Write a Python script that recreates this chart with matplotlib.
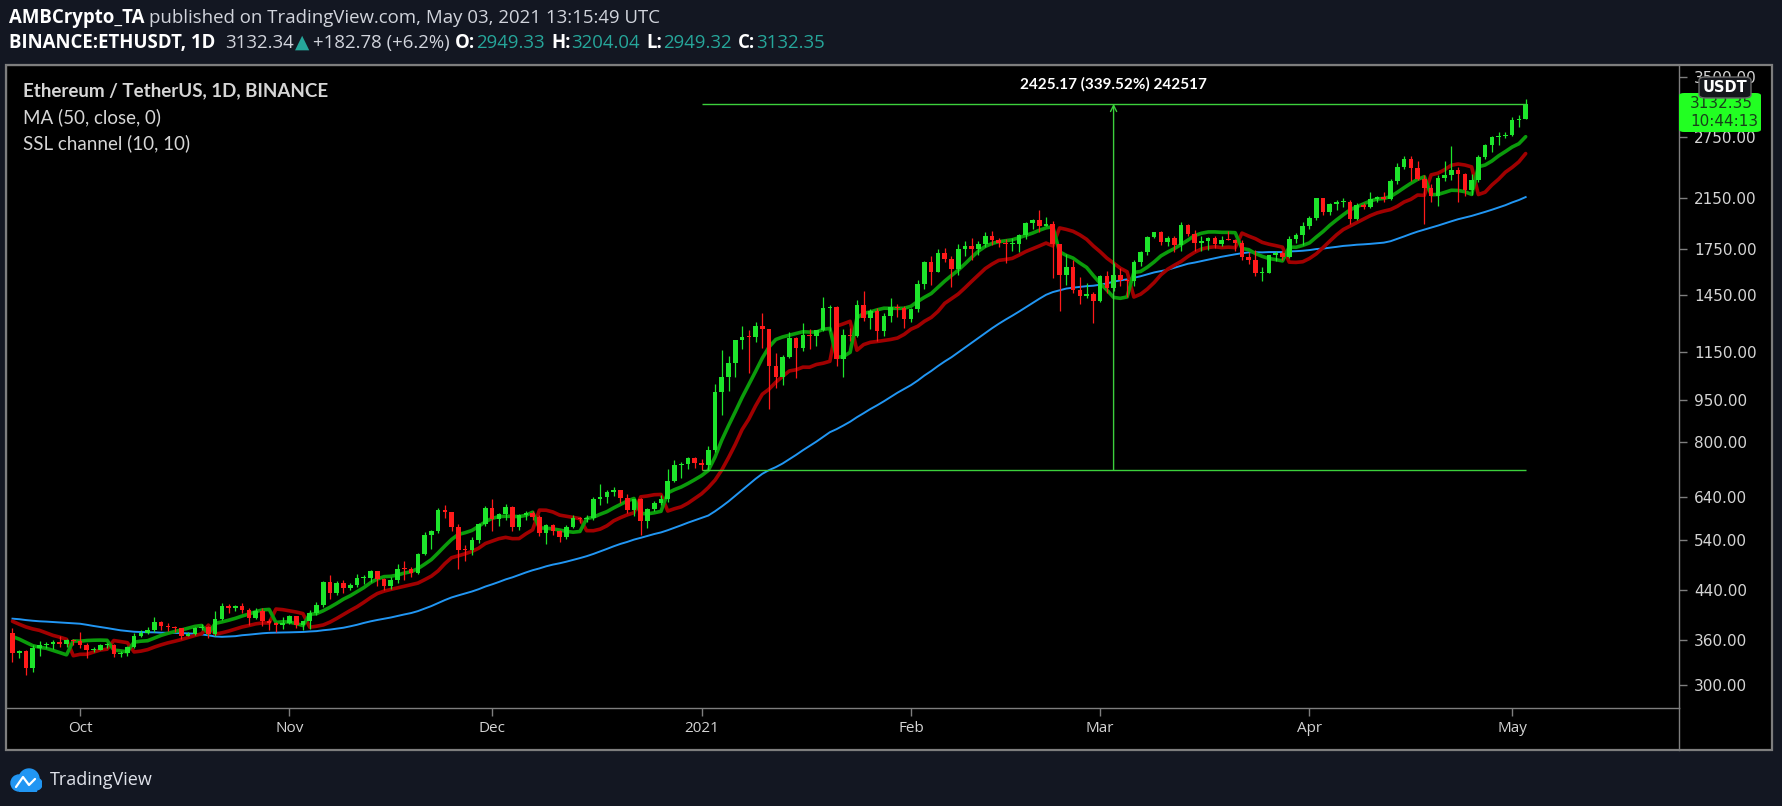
# ETHUSDT 日线走势图 (TradingView 风格还原)
import numpy as np
import pandas as pd
from matplotlib import pyplot as plt
from matplotlib.patches import Rectangle, FancyBboxPatch, Circle
from matplotlib.lines import Line2D
from matplotlib.ticker import FixedLocator, NullLocator

W, H = 1783, 806

# ---- 行情数据: Binance ETHUSDT 1D, 2020-09-21 .. 2021-05-03 ----
start_date = '2020-09-21'
first_open = 370.0

closes = [
    # Sep 21-30
    341, 344, 321, 349, 352, 354, 357, 354, 360, 359,
    # Oct
    353, 346, 346, 352, 353, 340, 341, 350, 365, 370, 375, 387, 381, 379, 377, 366,
    368, 377, 379, 368, 392, 413, 409, 412, 406, 393, 404, 388, 386, 383, 386,
    # Nov
    396, 383, 388, 402, 415, 455, 435, 453, 444, 449, 462, 462, 475, 460, 448, 459,
    480, 479, 471, 509, 550, 559, 608, 603, 568, 518, 517, 538, 574, 614,
    # Dec
    587, 598, 616, 569, 596, 601, 591, 554, 573, 560, 545, 568, 590, 586, 589, 636,
    642, 654, 659, 639, 609, 635, 583, 612, 626, 635, 683, 731, 732, 752, 737,
    # Jan
    729, 775, 979, 1041, 1100, 1208, 1225, 1224, 1282, 1263, 1090, 1043, 1130, 1218,
    1171, 1233, 1230, 1257, 1377, 1382, 1121, 1236, 1230, 1392, 1324, 1357, 1253,
    1331, 1382, 1377, 1314,
    # Feb
    1369, 1515, 1660, 1594, 1719, 1677, 1613, 1750, 1769, 1744, 1783, 1843, 1814,
    1790, 1781, 1782, 1846, 1937, 1960, 1920, 1935, 1781, 1570, 1626, 1478, 1446,
    1459, 1417,
    # Mar
    1565, 1492, 1575, 1541, 1532, 1654, 1724, 1835, 1869, 1799, 1826, 1772, 1924,
    1855, 1792, 1806, 1823, 1783, 1814, 1812, 1787, 1689, 1669, 1582, 1588, 1702,
    1716, 1691, 1819, 1846, 1919,
    # Apr
    1977, 2143, 2025, 2093, 2108, 2115, 1971, 2088, 2071, 2135, 2157, 2139, 2299,
    2432, 2514, 2422, 2316, 2236, 2164, 2331, 2357, 2402, 2363, 2214, 2304, 2534,
    2662, 2746, 2757, 2772,
    # May 1-3
    2945, 2949.33, 3132.35,
]

highs = [
    377, 346, 346, 352, 358, 357, 360, 366, 362, 362,
    372, 356, 350, 354, 355, 354, 344, 351, 370, 375, 379, 395, 389, 385, 381, 378,
    371, 379, 384, 381, 405, 418, 416, 415, 418, 409, 409, 409, 392, 387, 395,
    398, 397, 389, 407, 419, 457, 467, 457, 459, 453, 470, 468, 478, 476, 463, 464,
    490, 495, 484, 512, 556, 561, 613, 622, 604, 575, 529, 545, 578, 619,
    637, 601, 623, 619, 598, 605, 606, 596, 575, 576, 561, 572, 596, 592, 597, 640,
    676, 659, 668, 660, 649, 637, 639, 614, 630, 647, 717, 745, 740, 755, 754,
    749, 787, 1011, 1163, 1134, 1210, 1280, 1260, 1300, 1348, 1265, 1146, 1136, 1250,
    1223, 1294, 1263, 1260, 1440, 1394, 1385, 1263, 1270, 1423, 1476, 1372, 1377,
    1350, 1433, 1396, 1385,
    1375, 1541, 1665, 1695, 1745, 1755, 1700, 1780, 1806, 1828, 1803, 1870, 1875,
    1825, 1818, 1825, 1853, 1950, 1975, 2042, 1989, 1959, 1782, 1711, 1672, 1558,
    1525, 1470,
    1570, 1600, 1653, 1620, 1550, 1669, 1735, 1838, 1870, 1877, 1840, 1842, 1950,
    1933, 1889, 1837, 1835, 1840, 1837, 1876, 1816, 1811, 1726, 1739, 1624, 1703,
    1733, 1730, 1843, 1862, 1948,
    1995, 2150, 2150, 2100, 2130, 2146, 2132, 2100, 2105, 2197, 2160, 2200, 2318,
    2468, 2544, 2548, 2497, 2357, 2272, 2356, 2497, 2645, 2436, 2370, 2360, 2555,
    2673, 2757, 2799, 2800,
    2975, 3000, 3204.04,
]

lows = [
    329, 334, 313, 316, 337, 348, 347, 350, 350, 353,
    348, 335, 343, 345, 348, 336, 336, 337, 348, 364, 369, 371, 375, 373, 371, 361,
    365, 367, 374, 363, 365, 390, 401, 405, 402, 383, 391, 381, 374, 371, 376,
    384, 378, 375, 376, 398, 411, 425, 432, 435, 440, 445, 452, 455, 448, 440, 442,
    453, 459, 465, 469, 507, 519, 555, 589, 560, 480, 495, 507, 532, 570,
    560, 570, 585, 560, 562, 585, 585, 548, 530, 551, 535, 541, 565, 577, 580, 584,
    621, 625, 645, 626, 601, 593, 550, 566, 605, 620, 628, 682, 692, 718, 720,
    714.29, 716, 769, 893, 986, 1040, 1168, 1060, 1198, 1170, 915, 998, 1010, 1125,
    1037, 1155, 1165, 1180, 1254, 1256, 1090, 1040, 1203, 1222, 1306, 1264, 1205,
    1230, 1302, 1327, 1270,
    1301, 1355, 1483, 1508, 1590, 1655, 1500, 1570, 1697, 1671, 1702, 1760, 1776,
    1760, 1650, 1729, 1724, 1817, 1890, 1871, 1913, 1554, 1360, 1511, 1465, 1400,
    1433, 1293,
    1410, 1461, 1475, 1502, 1440, 1506, 1630, 1708, 1825, 1775, 1770, 1725, 1730,
    1837, 1731, 1730, 1742, 1757, 1766, 1809, 1731, 1671, 1645, 1565, 1537, 1585,
    1666, 1669, 1683, 1792, 1775,
    1894, 1960, 2000, 2004, 2048, 2070, 1935, 1961, 2055, 2057, 2115, 2110, 2128,
    2275, 2410, 2300, 2308, 1935, 2115, 2074, 2295, 2304, 2110, 2164, 2168, 2290,
    2516, 2580, 2660, 2733,
    2762, 2860, 2949.32,
]

# 指标预热数据 (图表左边界之前的日线)
prior_closes = [  # 2020-08-03 .. 2020-09-20
    386, 390, 401, 395, 379, 391, 391, 395, 380, 391, 428, 437, 433, 433, 430, 423,
    406, 416, 389, 396, 391, 408, 383, 386, 383, 395, 399, 428, 435,
    477, 440, 385, 388, 335, 352, 353, 337, 351, 368,
    374, 387, 365, 377, 365, 389, 389, 385, 384, 371,
]
prior_highs = [377, 392, 388, 382, 380, 395, 397, 392, 393, 385]  # 09-11 .. 09-20
prior_lows = [360, 371, 360, 363, 360, 362, 377, 380, 381, 365]

ytick_values = [300, 360, 440, 540, 640, 800, 950, 1150, 1450, 1750, 2150, 2750, 3500]
month_labels = ['Oct', 'Nov', 'Dec', '2021', 'Feb', 'Mar', 'Apr', 'May']

measure_start = '2021-01-01'
measure_low = 714.29
measure_change = 2425.17
measure_pct = 339.52

# ---- 颜色 ----
BG = '#131722'
BORDER = '#7e7e7e'
TXT = '#d1d4dc'
TEAL = '#26a69a'
UP = '#1de52b'
DOWN = '#ff1a1a'
MEAS = '#3ccf3c'

n = len(closes)
opens = [first_open] + closes[:-1]
dates = pd.date_range(start_date, periods=n, freq='D')
x = np.arange(n)

# MA(50, close)
ma50 = pd.Series(prior_closes + closes).rolling(50).mean().to_numpy()[len(prior_closes):]

# SSL channel (10, 10)
k = len(prior_highs)
sma_h = pd.Series(prior_highs + highs).rolling(10).mean().to_numpy()
sma_l = pd.Series(prior_lows + lows).rolling(10).mean().to_numpy()
cc = prior_closes[-k:] + closes
hlv = []
state = 0
for c_, h_, l_ in zip(cc, sma_h, sma_l):
    if c_ > h_:
        state = 1
    elif c_ < l_:
        state = -1
    hlv.append(state)
hlv = np.array(hlv)
ssl_down = np.where(hlv < 0, sma_h, sma_l)[k:]
ssl_up = np.where(hlv < 0, sma_l, sma_h)[k:]

fig = plt.figure(figsize=(W / 100, H / 100), dpi=100, facecolor=BG)


def fx(px):
    return px / W


def fy(py):
    return 1 - py / H


# 图表面板
fig.patches.append(Rectangle((fx(6), fy(750)), fx(1772) - fx(6), fy(65) - fy(750),
                             transform=fig.transFigure, facecolor='black',
                             edgecolor=BORDER, lw=1.6, zorder=-5))
fig.lines.append(Line2D([fx(1679), fx(1679)], [fy(708), fy(750)],
                        transform=fig.transFigure, color=BORDER, lw=1))

ax = fig.add_axes([fx(6), fy(708), fx(1679) - fx(6), fy(65) - fy(708)])
ax.set_facecolor('black')
for s in ax.spines.values():
    s.set_color(BORDER)
    s.set_linewidth(1)

# 均线与通道
ax.plot(x, ma50, color='#2196f3', lw=1.4, zorder=2)
ax.plot(x, ssl_down, color='#a00000', lw=2.6, zorder=3, solid_capstyle='round')
ax.plot(x, ssl_up, color='#0b9b0b', lw=2.6, zorder=3, solid_capstyle='round')

# K线
o = np.array(opens, dtype=float)
c = np.array(closes, dtype=float)
hi = np.array(highs, dtype=float)
lo = np.array(lows, dtype=float)
cols = np.where(c >= o, UP, DOWN)
ax.vlines(x, lo, hi, colors=cols, lw=0.9, zorder=4)
body_lo = np.minimum(o, c)
body_hi = np.maximum(np.maximum(o, c), body_lo * 1.004)
ax.bar(x, body_hi - body_lo, bottom=body_lo, width=0.68, color=cols, lw=0, zorder=5)

# 价格区间测量
i0 = dates.get_loc(pd.Timestamp(measure_start))
i1 = n - 1
m_hi = measure_low + measure_change
ax.hlines([measure_low, m_hi], i0, i1, colors=MEAS, lw=1, zorder=6)
xm = (i0 + i1) / 2
ax.annotate('', xy=(xm, m_hi), xytext=(xm, measure_low),
            arrowprops=dict(arrowstyle='->', color=MEAS, lw=1, shrinkA=0, shrinkB=0,
                            mutation_scale=11), zorder=6)
ax.annotate(f'{measure_change:.2f} ({measure_pct:.2f}%) 242517', xy=(xm, m_hi),
            xytext=(0, 14), textcoords='offset points', ha='center', va='center',
            color='white', fontsize=11, fontweight='bold', family=['Lato', 'DejaVu Sans'])

# 坐标轴
ax.set_yscale('log')
ax.set_ylim(273.4, 3673)
ax.set_xlim(-0.96, n - 1 + 22.7)
ax.yaxis.set_major_locator(FixedLocator(ytick_values))
ax.yaxis.set_minor_locator(NullLocator())
ax.set_yticklabels([f'{v:.2f}' for v in ytick_values])
ax.yaxis.tick_right()
ax.tick_params(axis='y', direction='out', length=6, width=1, color=BORDER,
               labelcolor='#d4d4d4', labelsize=11, pad=5)
month_pos = x[dates.day == 1]
ax.set_xticks(month_pos)
ax.set_xticklabels(month_labels, family=['Open Sans', 'DejaVu Sans'])
ax.tick_params(axis='x', direction='out', length=6, width=1, color=BORDER,
               labelcolor='#d4d4d4', labelsize=11, pad=3)

# 图例
leg_font = ['Lato', 'DejaVu Sans']
fig.text(fx(23), fy(91), 'Ethereum / TetherUS, 1D, BINANCE', color='#d6d6d6',
         fontsize=13.5, fontweight='bold', family=leg_font, va='center')
fig.text(fx(23), fy(117), 'MA (50, close, 0)', color='#d6d6d6', fontsize=13.5,
         family=leg_font, va='center')
fig.text(fx(23), fy(143), 'SSL channel (10, 10)', color='#d6d6d6', fontsize=13.5,
         family=leg_font, va='center')

# 右侧价格标签
fig.patches.append(FancyBboxPatch((fx(1679), fy(132)), fx(1761) - fx(1679), fy(93) - fy(132),
                                  boxstyle='round,pad=0,rounding_size=0.003',
                                  transform=fig.transFigure, facecolor='#22ff22',
                                  edgecolor='none', zorder=10))
fig.text(fx(1690), fy(104), f'{closes[-1]:.2f}', color='#17401a', fontsize=11,
         va='center', zorder=11)
fig.text(fx(1690), fy(122), '10:44:13', color='#17401a', fontsize=11, va='center', zorder=11)
fig.patches.append(FancyBboxPatch((fx(1699), fy(98)), fx(1751) - fx(1699), fy(77) - fy(98),
                                  boxstyle='round,pad=0,rounding_size=0.004',
                                  transform=fig.transFigure, facecolor='#15171c',
                                  edgecolor='#6a6a6a', lw=1, zorder=12))
fig.text(fx(1725), fy(88), 'USDT', color='white', fontsize=10.5, fontweight='bold',
         ha='center', va='center', zorder=13)

# 顶部标题
renderer = fig.canvas.get_renderer()
head_font = ['Open Sans', 'DejaVu Sans']


def text_row(x0, y0, parts, size):
    xpos = x0
    for s, color, weight, gap in parts:
        t = fig.text(fx(xpos), fy(y0), s, color=color, fontsize=size, fontweight=weight,
                     family=head_font, va='center', ha='left')
        xpos += t.get_window_extent(renderer).width + gap


text_row(9, 18, [
    ('AMBCrypto_TA', 'white', 'bold', 5),
    ('published on TradingView.com, May 03, 2021 13:15:49 UTC', TXT, 'normal', 0),
], 13.4)
text_row(9, 43, [
    ('BINANCE:ETHUSDT, 1D', 'white', 'bold', 10),
    ('3132.34', TXT, 'normal', 1),
    ('▲', TEAL, 'normal', 4),
    ('+182.78 (+6.2%)', TXT, 'normal', 5),
    ('O:', 'white', 'bold', 1), ('2949.33', TEAL, 'normal', 6),
    ('H:', 'white', 'bold', 1), ('3204.04', TEAL, 'normal', 6),
    ('L:', 'white', 'bold', 1), ('2949.32', TEAL, 'normal', 6),
    ('C:', 'white', 'bold', 1), ('3132.35', TEAL, 'normal', 0),
], 13.4)

# TradingView 标志
lax = fig.add_axes([fx(10), fy(792), fx(42) - fx(10), fy(766) - fy(792)])
lax.set_xlim(0, 32)
lax.set_ylim(0, 26)
lax.axis('off')
for cx, cy, r in [(9, 9, 8), (19, 13, 10), (26, 8, 6)]:
    lax.add_patch(Circle((cx, cy), r, color='#2196f3'))
lax.add_patch(Rectangle((9, 1), 17, 8, color='#2196f3'))
lax.plot([6, 13, 19, 25], [5, 15, 7, 13], color='white', lw=1.6, solid_capstyle='round')
fig.text(fx(50), fy(780), 'TradingView', color='#e0e3eb', fontsize=13,
         family=head_font, va='center')

fig.savefig('out.png', dpi=100, facecolor=BG)
